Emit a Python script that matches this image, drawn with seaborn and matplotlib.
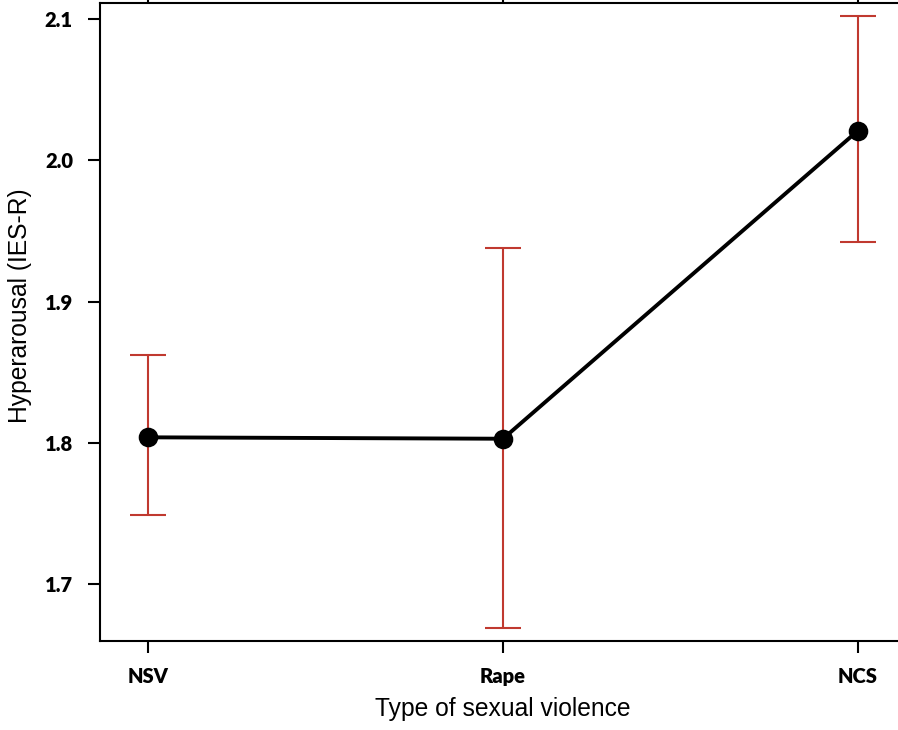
import matplotlib
matplotlib.use("Agg")
import matplotlib.pyplot as plt
import numpy as np
import pandas as pd
import seaborn as sns

# values
groups = ["NSV", "Rape", "NCS"]
means = [1.804, 1.803, 2.021]
ci_low = [1.749, 1.669, 1.942]
ci_high = [1.862, 1.938, 2.102]
yticks = [1.7, 1.8, 1.9, 2.0, 2.1]

df = pd.DataFrame({"group": groups, "mean": means})

sns.set_style("ticks")
plt.rcParams["font.family"] = ["Liberation Sans", "DejaVu Sans"]
plt.rcParams["text.color"] = "black"
plt.rcParams["axes.labelcolor"] = "black"
plt.rcParams["xtick.color"] = "black"
plt.rcParams["ytick.color"] = "black"

W, H = 898, 730
fig = plt.figure(figsize=(W / 100, H / 100), dpi=100)
# axes box in pixels: left 100, right 906 (cut off), top 3, bottom 641
ax = fig.add_axes([100 / W, (H - 641) / H, 806 / W, 638 / H])

red = "#c0392f"
lo = np.array(means) - np.array(ci_low)
hi = np.array(ci_high) - np.array(means)
ax.errorbar(range(len(groups)), means, yerr=[lo, hi], fmt="none",
            ecolor=red, elinewidth=1.5, capsize=13, capthick=1.5, zorder=2)

sns.pointplot(data=df, x="group", y="mean", color="black", markers="o",
              errorbar=None, markersize=12, linewidth=2.8, ax=ax, zorder=3)

ax.set_xlim(-0.136, 2.136)
ax.set_ylim(1.6598, 2.1115)
ax.set_yticks(yticks)
ax.set_yticklabels([f"{v:.1f}" for v in yticks])

for side in ["left", "bottom", "top", "right"]:
    ax.spines[side].set_linewidth(1.5)
    ax.spines[side].set_color("black")

ax.tick_params(axis="both", direction="out", length=8.5, width=1.5, color="black")
ax.tick_params(axis="x", top=True, labeltop=False, pad=10)
ax.tick_params(axis="y", pad=11)
for lab in ax.get_xticklabels() + ax.get_yticklabels():
    lab.set_fontfamily(["Lato", "DejaVu Sans"])
    lab.set_fontweight("heavy")
    lab.set_fontsize(14.5)
    lab.set_color("black")

ax.set_xlabel("Type of sexual violence", fontsize=17.7)
ax.set_ylabel("Hyperarousal (IES-R)", fontsize=17.7)
ax.xaxis.set_label_coords(0.5, -0.088)
ax.yaxis.set_label_coords(-0.084, 0.526)

fig.savefig("out.png", dpi=100, facecolor="white")
